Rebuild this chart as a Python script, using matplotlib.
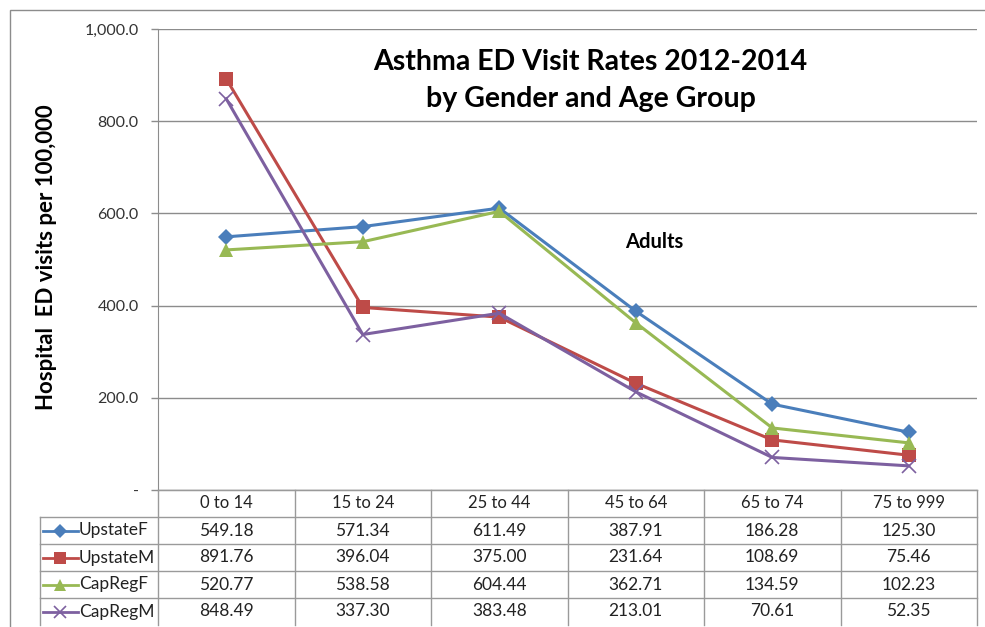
import matplotlib
matplotlib.use('Agg')
import matplotlib.pyplot as plt
from matplotlib.patches import Rectangle

categories = ["0 to 14", "15 to 24", "25 to 44", "45 to 64", "65 to 74", "75 to 999"]
series_names = ["UpstateF", "UpstateM", "CapRegF", "CapRegM"]
upstate_f = [549.18, 571.34, 611.49, 387.91, 186.28, 125.30]
upstate_m = [891.76, 396.04, 375.00, 231.64, 108.69, 75.46]
capreg_f = [520.77, 538.58, 604.44, 362.71, 134.59, 102.23]
capreg_m = [848.49, 337.30, 383.48, 213.01, 70.61, 52.35]
y_ticks = [0, 200, 400, 600, 800, 1000]
y_tick_labels = ["-", "200.0", "400.0", "600.0", "800.0", "1,000.0"]

series_values = [upstate_f, upstate_m, capreg_f, capreg_m]
colors = ["#4A7EBB", "#BE4B48", "#98B954", "#7D60A0"]
markers = ["D", "s", "^", "x"]
msizes = [8, 10, 10, 10]

plt.rcParams['font.family'] = ['Lato', 'DejaVu Sans']

W, H = 985, 627
fig = plt.figure(figsize=(9.85, 6.27), dpi=100)


def fx(px):
    return px / W


def fy(py):
    return 1 - py / H


GRID = "#8c8c8c"
TBL = "#9a9a9a"
TXT = "#222222"
L, R, T, B = 158, 977, 29, 490
ax = fig.add_axes([fx(L), fy(B), fx(R) - fx(L), fy(T) - fy(B)])
n = len(categories)
xs = [i + 0.5 for i in range(n)]
ax.set_xlim(0, n)
ax.set_ylim(0, 1000)
ax.set_yticks(y_ticks)
ax.set_yticklabels(y_tick_labels, fontsize=11.5, color="#333333")
ax.set_xticks([])
ax.tick_params(axis='y', length=5, color=GRID, width=1, pad=9)
ax.grid(axis='y', color=GRID, lw=1)
ax.set_axisbelow(True)
for s in ['top', 'right']:
    ax.spines[s].set_visible(False)
ax.spines['left'].set_color(GRID)
ax.spines['bottom'].set_color(TBL)

for vals, c, m, ms in zip(series_values, colors, markers, msizes):
    ax.plot(xs, vals, color=c, lw=2.2, marker=m, ms=ms, mew=1.2 if m == 'x' else 0,
            mfc=c, mec=c, clip_on=False, zorder=3)

ax.text(0.606, 0.537, "Adults", transform=ax.transAxes, fontsize=14.5,
        fontweight='bold', ha='center', va='center')

# title
fig.text(fx(590), fy(62), "Asthma ED Visit Rates 2012-2014", fontsize=20.5,
         fontweight='bold', ha='center', va='center')
fig.text(fx(591), fy(99), "by Gender and Age Group", fontsize=20.5,
         fontweight='bold', ha='center', va='center')

fig.text(fx(47), fy(257), "Hospital  ED visits per 100,000", fontsize=16,
         fontweight='bold', rotation=90, ha='center', va='center')

# data table
TL, TB = 40, 625
rows = len(series_names) + 1
colw = (R - L) / n
ext = (L - TL) / colw
tax = fig.add_axes([fx(TL), fy(TB), fx(R) - fx(TL), fy(B) - fy(TB)])
tax.set_xlim(-ext, n)
tax.set_ylim(rows, 0)
tax.axis('off')
tax.plot([0, n], [0, 0], color=TBL, lw=1, clip_on=False)
for r in range(1, rows):
    tax.plot([-ext, n], [r, r], color=TBL, lw=1, clip_on=False)
for cidx in range(n + 1):
    tax.plot([cidx, cidx], [0, rows], color=TBL, lw=1, clip_on=False)
tax.plot([-ext, -ext], [1, rows], color=TBL, lw=1, clip_on=False)

for i, cat in enumerate(categories):
    tax.text(i + 0.5, 0.5, cat, ha='center', va='center', fontsize=12, color=TXT)
for r, (name, vals, c, m, ms) in enumerate(zip(series_names, series_values, colors, markers, msizes)):
    yy = r + 1.5
    x0 = -ext + 0.02
    x1 = -ext + 0.28
    tax.plot([x0, x1], [yy, yy], color=c, lw=2)
    tax.plot([(x0 + x1) / 2], [yy], marker=m, color=c, ms=ms * 0.85,
             mew=1.2 if m == 'x' else 0)
    tax.text(x1 + 0.005, yy, name, ha='left', va='center', fontsize=12.5, color=TXT)
    for i, v in enumerate(vals):
        tax.text(i + 0.5, yy, f"{v:.2f}", ha='center', va='center', fontsize=12.5,
                 color=TXT)

# outer chart frame
fig.patches.append(Rectangle((fx(10), -0.1), 1.2, fy(10) + 0.1,
                             transform=fig.transFigure, fill=False,
                             ec=GRID, lw=1))

fig.savefig("out.png", dpi=100)
